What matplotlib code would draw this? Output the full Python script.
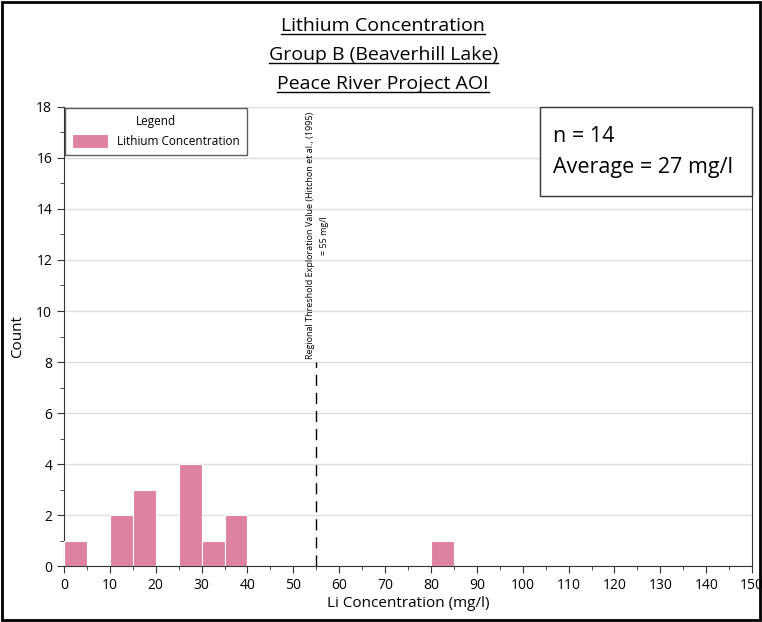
import matplotlib
matplotlib.use("Agg")
import matplotlib.pyplot as plt
from matplotlib.patches import Rectangle
from matplotlib.lines import Line2D

plt.rcParams['font.family'] = ['Open Sans', 'DejaVu Sans']

# histogram data (bins of 5 mg/l)
bin_left = [0, 10, 15, 25, 30, 35, 80]
counts = [1, 2, 3, 4, 1, 2, 1]
bin_width = 5
threshold = 55
title_lines = ["Lithium Concentration", "Group B (Beaverhill Lake)", "Peace River Project AOI"]
n_samples = 14
average = 27

fig = plt.figure(figsize=(7.62, 6.22), dpi=100)
ax = fig.add_axes([0.084, 0.090, 0.903, 0.738])

ax.bar(bin_left, counts, width=bin_width, align='edge', color='#DE82A3',
       edgecolor='white', linewidth=0.8, label='Lithium Concentration', zorder=3)

ax.set_xlim(0, 150)
ax.set_ylim(0, 18)
ax.set_xticks(range(0, 151, 10))
ax.set_xticks(range(0, 151, 5), minor=True)
ax.set_yticks(range(0, 19, 2))
ax.set_yticks(range(0, 19, 1), minor=True)
ax.yaxis.grid(True, color='#dddddd', linewidth=1)
ax.set_axisbelow(True)
ax.tick_params(axis='both', which='major', labelsize=10, length=5, color='#333333')
ax.tick_params(axis='both', which='minor', length=3, color='#333333')
ax.spines['top'].set_visible(False)
for s in ['right', 'left', 'bottom']:
    ax.spines[s].set_color('#333333')
ax.set_xlabel('Li Concentration (mg/l)', fontsize=11, labelpad=2)
ax.set_ylabel('Count', fontsize=11, labelpad=8)

# threshold line and label
ax.plot([threshold, threshold], [0, 8], color='black', linestyle=(0, (8, 5)), linewidth=1, zorder=4)
ax.text(threshold + 0.3, 8.1, 'Regional Threshold Exploration Value (Hitchon et al., (1995)\n= 55 mg/l',
        rotation=90, ha='center', va='bottom', multialignment='center', fontsize=6.5,
        linespacing=1.7)

leg = ax.legend(loc='upper left', title='Legend', fontsize=8.5, title_fontsize=8.5,
                fancybox=False, edgecolor='#333333', borderaxespad=0.1,
                handlelength=3.0, handleheight=1.4, borderpad=0.6)
leg.get_frame().set_linewidth(1)

# n / average box
ax.add_patch(Rectangle((0.692, 0.806), 0.308, 0.194, transform=ax.transAxes, facecolor='white',
                       edgecolor='#333333', linewidth=1, zorder=5, clip_on=False))
ax.text(0.711, 0.935, 'n = %d' % n_samples, transform=ax.transAxes, ha='left', va='center',
        fontsize=15.5, zorder=6)
ax.text(0.711, 0.869, 'Average = %d mg/l' % average, transform=ax.transAxes, ha='left', va='center',
        fontsize=15.5, zorder=6)

# underlined title lines
title_texts = []
for i, line in enumerate(title_lines):
    t = fig.text(0.503, 0.958 - i * 0.0465, line, ha='center', va='center', fontsize=14)
    title_texts.append(t)
fig.canvas.draw()
renderer = fig.canvas.get_renderer()
for t in title_texts:
    bb = t.get_window_extent(renderer).transformed(fig.transFigure.inverted())
    fig.add_artist(Line2D([bb.x0, bb.x1], [bb.y0 + 0.002, bb.y0 + 0.002], color='black', linewidth=1))

# outer border
fig.add_artist(Rectangle((0.003, 0.003), 0.994, 0.994, transform=fig.transFigure,
                         fill=False, edgecolor='black', linewidth=2))

fig.savefig('out.png', dpi=100)
